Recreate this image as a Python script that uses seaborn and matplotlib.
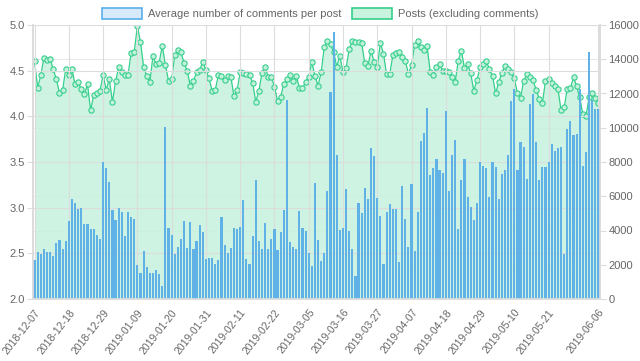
import numpy as np
import pandas as pd
import matplotlib
matplotlib.use('Agg')
import matplotlib.pyplot as plt
from matplotlib.patches import Patch
import seaborn as sns

# average number of comments per post (left axis, bars)
avg_comments = [
    2.43, 2.51, 2.49, 2.55, 2.52, 2.52, 2.47, 2.61, 2.65, 2.55, 2.63, 2.85, 3.10, 3.05, 2.99, 3.00,
    2.82, 2.82, 2.77, 2.77, 2.70, 2.66, 3.50, 3.43, 3.28, 2.97, 2.86, 3.00, 2.95, 2.69, 2.95,
    2.90, 2.88, 2.37, 2.29, 2.53, 2.35, 2.28, 2.28, 2.32, 2.27, 2.14, 3.88, 2.78, 2.70, 2.49, 2.57,
    2.66, 2.85, 2.56, 2.84, 2.55, 2.64, 2.81, 2.73, 2.44, 2.45, 2.45, 2.38, 2.43, 2.90, 2.59,
    2.50, 2.56, 2.78, 2.77, 2.79, 3.08, 2.44, 2.38, 2.69, 3.30, 2.64, 2.55, 2.83, 2.55, 2.66,
    2.77, 2.54, 2.73, 2.97, 4.18, 2.62, 2.57, 2.55, 2.96, 2.78, 2.74, 2.50, 2.36, 3.27, 2.65,
    2.42, 2.50, 3.18, 4.27, 4.92, 3.58, 2.75, 2.78, 3.20, 2.74, 2.55, 2.25, 3.05, 2.94, 3.22, 3.10,
    3.65, 3.57, 3.11, 2.91, 2.38, 2.95, 3.04, 2.99, 2.99, 2.41, 3.24, 2.88, 2.57, 3.26, 2.53,
    2.95, 3.73, 3.82, 4.09, 3.36, 3.43, 3.53, 3.41, 3.38, 4.06, 3.18, 3.58, 3.74, 2.77, 3.30,
    3.53, 3.12, 3.01, 2.86, 3.05, 3.50, 3.46, 3.43, 3.12, 3.50, 3.45, 3.10, 3.37, 3.41, 3.58,
    4.17, 4.30, 3.41, 3.72, 3.66, 3.31, 4.13, 4.24, 3.72, 3.30, 3.45, 3.45, 3.50, 3.70, 3.62,
    3.65, 3.66, 2.49, 3.86, 3.95, 3.80, 3.81, 4.30, 3.46, 3.61, 4.70, 4.18, 4.08, 4.08,
]

# posts excluding comments (right axis, filled line)
posts = [
    13890, 12340, 13060, 14090, 13930, 14030, 13410, 12820, 12050, 12200, 13430, 13060, 13410,
    12530, 12670, 12240, 11970, 12530, 11010, 11930, 12010, 12160, 13080, 12220, 12840, 11500,
    12710, 13520, 13250, 13080, 13080,
    14380, 14440, 15940, 15000, 13560, 13020, 12650, 14190, 13720, 13800, 14790, 13640, 12750,
    12820, 14260, 14540, 14420, 13760, 13330, 12430, 12730, 13230, 13370, 13860, 13370, 12880,
    12160, 12200, 13080, 13000,
    12790, 13020, 12980, 11850, 12180, 13250, 13170, 13120, 13060, 12630, 11520, 12140, 13210,
    13560, 12960, 12980, 12400, 11560, 11790, 12570, 12820, 13060, 12730, 13040, 12340, 12300,
    12670, 12980, 13840, 13020, 12460,
    13230, 14730, 15080, 14870, 14420, 13560, 14210, 13230, 13490, 14600, 15040, 14980, 14980,
    14950, 13760, 13580, 14500, 13840, 13520, 14960, 14320, 13120, 13120, 14230, 14360, 14440,
    14150, 13910, 13140,
    13640, 14840, 15080, 14690, 14540, 14770, 13270, 13080, 13560, 13720, 13330, 13330, 13270,
    12940, 12650, 13910, 14500, 13470, 13700, 13170, 12160, 12790, 13520, 13700, 13910, 13410,
    13020, 12010, 12650, 13210, 13590, 13420,
    13270, 12880, 12010, 11750, 12750, 13120, 12940, 12790, 12200, 11700, 11420, 12730, 12840,
    12630, 12430, 12260, 11030, 11190, 12280, 12300, 12940, 12430, 11770, 10780, 10680, 11770,
    12050, 11710, 11460,
]

dates = pd.date_range('2018-12-07', periods=len(avg_comments)).strftime('%Y-%m-%d')
label_step = 11

df = pd.DataFrame({'date': dates, 'avg': avg_comments, 'posts': posts})
df['pos'] = np.arange(len(df))

sns.set_theme(style='white')
plt.rcParams['font.family'] = ['Liberation Sans', 'DejaVu Sans']

bar_color = '#5fb1e6'
line_color = '#35cf8c'
fill_color = '#c6f2dd'
grid_color = '#dcdcdc'
text_color = '#666666'

fig = plt.figure(figsize=(6.4, 3.61), dpi=100)
ax = fig.add_axes([33 / 640, 62 / 361, 567 / 640, 274 / 361])
ax2 = ax.twinx()

# posts line + fill on the right axis (drawn underneath)
ax2.fill_between(df['pos'], df['posts'], 0, color=fill_color, alpha=0.85, lw=0, zorder=1)
sns.lineplot(data=df, x='pos', y='posts', ax=ax2, color=line_color, lw=0.9,
             marker='o', markersize=3.8, markerfacecolor='#c4f1dc',
             markeredgecolor=line_color, markeredgewidth=0.8, zorder=2)
ax2.set_ylim(0, 16000)
ax2.set_yticks(range(0, 16001, 2000))
ax2.grid(axis='y', color='#000000', alpha=0.09, lw=0.8)
ax2.set_axisbelow(True)
ax2.set_ylabel('')

# bars on the left axis, on top
ax.set_zorder(ax2.get_zorder() + 1)
ax.patch.set_visible(False)
sns.barplot(data=df, x='pos', y='avg', ax=ax, color=bar_color, width=0.68,
            linewidth=0, saturation=1, native_scale=True)
ax.set_ylim(2.0, 5.0)
ax.set_yticks(np.arange(2.0, 5.01, 0.5))
ax.set_yticklabels([f'{v:.1f}' for v in np.arange(2.0, 5.01, 0.5)])
ax.set_xlim(-0.5, len(df) - 0.5)
tick_idx = list(range(0, len(df), label_step))
if len(df) - 1 - tick_idx[-1] < label_step:
    tick_idx[-1] = len(df) - 1
ax.set_xticks(tick_idx)
ax.set_xticklabels([dates[i] for i in tick_idx], rotation=52, ha='right',
                   rotation_mode='anchor')
ax.grid(axis='x', color=grid_color, lw=0.8)
ax.grid(axis='y', color=grid_color, lw=0.8)
ax.set_axisbelow(True)
ax.set_xlabel('')
ax.set_ylabel('')

for a in (ax, ax2):
    for s in a.spines.values():
        s.set_color(grid_color)
    a.spines['top'].set_visible(False)
    a.tick_params(colors=text_color, labelsize=8, length=4, width=0.8, color=grid_color, pad=2)
    a.tick_params(axis='x', labelsize=7.5)

handles = [Patch(facecolor='#d6eafb', edgecolor='#5aaee8', lw=1.2),
           Patch(facecolor='#c8f3df', edgecolor=line_color, lw=1.2)]
fig.legend(handles, ['Average number of comments per post', 'Posts (excluding comments)'],
           loc='upper center', bbox_to_anchor=(0.5, 1.005), ncol=2, frameon=False,
           fontsize=8, handlelength=3.6, handleheight=1.1, columnspacing=1.0,
           handletextpad=0.5, labelcolor=text_color)

fig.savefig('out.png', dpi=100)
